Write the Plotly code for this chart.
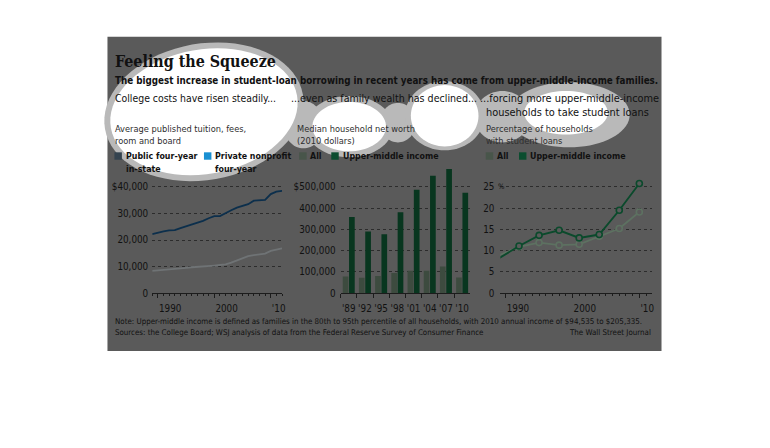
import math
import plotly.graph_objects as go

# ---------------- data ----------------
tuition_years = list(range(1989, 2013))
private_tuition = [22200, 22800, 23300, 23600, 23700, 24500, 25200, 25900, 26500, 27200,
                   28200, 29000, 29000, 30200, 31200, 32200, 32800, 33500, 34800, 35000,
                   35100, 37300, 38200, 38500]
public_tuition = [8400, 8550, 8700, 8900, 9100, 9300, 9550, 9750, 9850, 10000,
                  10200, 10400, 10600, 10800, 11500, 12400, 13200, 13900, 14300, 14600,
                  14900, 15900, 16500, 16900]
tuition_ticks = [1990, 2000, 2010]
tuition_ticktext = ["1990", "2000", "'10"]
tuition_yticks = [0, 10000, 20000, 30000, 40000]
tuition_yticktext = ["0", "10,000", "20,000", "30,000", "$40,000"]

survey_labels = ["'89", "'92", "'95", "'98", "'01", "'04", "'07", "'10"]
networth_all = [78000, 73000, 81000, 95000, 105000, 106000, 125000, 74000]
networth_upper = [358000, 290000, 277000, 381000, 487000, 553000, 584000, 473000]
networth_yticks = [0, 100000, 200000, 300000, 400000, 500000]
networth_yticktext = ["0", "100,000", "200,000", "300,000", "400,000", "$500,000"]

loan_years = [1989, 1992, 1995, 1998, 2001, 2004, 2007, 2010]
loans_all = [8.9, 10.9, 11.9, 11.3, 11.5, 13.4, 15.2, 19.1]
loans_upper = [8.2, 11.1, 13.6, 14.8, 13.0, 13.8, 19.5, 25.8]
loan_yticks = [0, 5, 10, 15, 20, 25]
loan_yticktext = ["0", "5", "10", "15", "20", "25"]

# ---------------- style ----------------
OFF = 8                      # page body margin
FW, FH = 770 - 2 * OFF, 448 - 2 * OFF
BG = "#5a5a5a"
HALO = "#b9b9b9"
GRID = "#2c2c2c"
AXIS = "#1c1c1c"
TXT = "#111111"
SUB = "#2e2e2e"
NAVY = "#0c2f4c"
PUBGRAY = "#6f7375"
ALLG = "#3d4b3f"
UPG = "#08361f"
LALL = "#5d7161"
LUP = "#0b4a2c"
NARROW = "Liberation Sans Narrow, DejaVu Sans Condensed, Liberation Sans, sans-serif"


def X(px):
    return (px - OFF) / FW


def Y(py):
    return 1 - (py - OFF) / FH


def ellipse_path(cx, cy, rx, ry, ang=0.0, n=72):
    a = math.radians(ang)
    pts = []
    for i in range(n):
        t = 2 * math.pi * i / n
        ex, ey = rx * math.cos(t), ry * math.sin(t)
        px = cx + ex * math.cos(a) + ey * math.sin(a)
        py = cy - ex * math.sin(a) + ey * math.cos(a)
        pts.append(f"{X(px):.5f},{Y(py):.5f}")
    return "M" + " L".join(pts) + " Z"


fig = go.Figure()

# left: tuition lines
fig.add_trace(go.Scatter(x=tuition_years, y=public_tuition, mode="lines",
                         line=dict(color=PUBGRAY, width=1.8), xaxis="x", yaxis="y",
                         hoverinfo="skip"))
fig.add_trace(go.Scatter(x=tuition_years, y=private_tuition, mode="lines",
                         line=dict(color=NAVY, width=1.8), xaxis="x", yaxis="y",
                         hoverinfo="skip"))
# middle: bars
fig.add_trace(go.Bar(x=survey_labels, y=networth_all, marker=dict(color=ALLG, line_width=0),
                     xaxis="x2", yaxis="y2", hoverinfo="skip"))
fig.add_trace(go.Bar(x=survey_labels, y=networth_upper, marker=dict(color=UPG, line_width=0),
                     xaxis="x2", yaxis="y2", hoverinfo="skip"))
# right: loan lines
fig.add_trace(go.Scatter(x=loan_years, y=loans_all, mode="lines+markers",
                         line=dict(color=LALL, width=1.8),
                         marker=dict(size=6, color=BG, line=dict(color=LALL, width=1.6)),
                         xaxis="x3", yaxis="y3", cliponaxis=False, hoverinfo="skip"))
fig.add_trace(go.Scatter(x=loan_years, y=loans_upper, mode="lines+markers",
                         line=dict(color=LUP, width=1.9),
                         marker=dict(size=6, color=BG, line=dict(color=LUP, width=1.6)),
                         xaxis="x3", yaxis="y3", cliponaxis=False, hoverinfo="skip"))

ZERO_PY = 296.5
tickfont = dict(family=NARROW, size=9.8, color=TXT)


def ydom(top_py):
    return [Y(ZERO_PY), Y(top_py)]


def yaxis_common(**kw):
    d = dict(showgrid=True, gridcolor=GRID, griddash="dot", gridwidth=1, zeroline=False,
             showline=False, ticks="", tickfont=tickfont, fixedrange=True, ticklabelstandoff=3)
    d.update(kw)
    return d


def xaxis_common(**kw):
    d = dict(showgrid=False, zeroline=False, showline=True, linecolor=AXIS, linewidth=1.2,
             ticks="outside", ticklen=4, tickwidth=1, tickcolor=AXIS, tickfont=tickfont,
             fixedrange=True, tickangle=0, ticklabelstandoff=6)
    d.update(kw)
    return d


left_top = 182.0
left_rng = 40000 * (ZERO_PY - left_top) / (ZERO_PY - 189.0)
mid_top = 166.0
mid_rng = 500000 * (ZERO_PY - mid_top) / (ZERO_PY - 189.0)
right_top = 180.0
right_rng = 25 * (ZERO_PY - right_top) / (ZERO_PY - 189.0)

minor = dict(dtick=1, tick0=1990, ticks="outside", ticklen=2, tickcolor=AXIS, showgrid=False)

fig.update_layout(
    width=FW, height=FH,
    margin=dict(l=0, r=0, t=0, b=0),
    paper_bgcolor="white", plot_bgcolor="rgba(0,0,0,0)",
    showlegend=False, barmode="group", bargap=0.22, bargroupgap=0.1,
    xaxis=xaxis_common(domain=[X(153), X(283.5)], range=[1989, 2012], anchor="y",
                       tickvals=tuition_ticks, ticktext=tuition_ticktext,
                       ticklabelposition="outside right", minor=minor),
    yaxis=yaxis_common(domain=ydom(left_top), range=[0, left_rng], anchor="x",
                       tickvals=tuition_yticks, ticktext=tuition_yticktext),
    xaxis2=xaxis_common(domain=[X(342.4), X(472.7)], range=[-0.5, 7.5], anchor="y2",
                        type="category", tickson="boundaries"),
    yaxis2=yaxis_common(domain=ydom(mid_top), range=[0, mid_rng], anchor="x2",
                        tickvals=networth_yticks, ticktext=networth_yticktext,
                        ticklabelstandoff=4),
    xaxis3=xaxis_common(domain=[X(503), X(655)], range=[1989.21, 2011.83], anchor="y3",
                        tickvals=tuition_ticks, ticktext=tuition_ticktext,
                        ticklabelposition="outside right", minor=minor),
    yaxis3=yaxis_common(domain=ydom(right_top), range=[0, right_rng], anchor="x3",
                        tickvals=loan_yticks, ticktext=loan_yticktext,
                        ticklabelstandoff=5),
)

shapes = [dict(type="rect", xref="paper", yref="paper", x0=X(108), x1=X(665), y0=Y(355), y1=Y(37),
               fillcolor=BG, line=dict(width=0), layer="below")]
halos = [(205, 113, 101, 69, 10), (305, 126, 20, 24, 0), (351, 128, 44, 31, 0),
         (400, 124, 18, 20, 0), (447, 117, 40, 35, 0), (505, 118, 28, 26, 0),
         (572, 116, 61, 33, 0)]
whites = [(205, 113, 95, 63, 10), (351, 128, 37, 25, 0), (447, 117, 34, 31, 0),
          (569, 114, 42, 22, 0)]
for cx, cy, rx, ry, a in halos:
    shapes.append(dict(type="path", xref="paper", yref="paper", path=ellipse_path(cx, cy, rx, ry, a),
                       fillcolor=HALO, line=dict(width=0), layer="below"))
for cx, cy, rx, ry, a in whites:
    shapes.append(dict(type="path", xref="paper", yref="paper", path=ellipse_path(cx, cy, rx, ry, a),
                       fillcolor="white", line=dict(width=0), layer="below"))

# legend swatches
for x0, col in [(115, "#34434f"), (205, "#1a90d2"), (300.7, "#48554a"), (333, "#0b4d2f"),
                (488.3, "#48554a"), (521.7, "#0b4d2f")]:
    shapes.append(dict(type="rect", xref="paper", yref="paper", x0=X(x0), x1=X(x0 + 7.5),
                       y0=Y(161.5), y1=Y(154), fillcolor=col, line=dict(width=0)))
fig.update_layout(shapes=shapes)

ann = []


def text(px, py, s, size, color=TXT, family=NARROW, bold=False, xanchor="left"):
    if bold:
        s = "<b>" + s + "</b>"
    ann.append(dict(xref="paper", yref="paper", x=X(px), y=Y(py), text=s, showarrow=False,
                    xanchor=xanchor, yanchor="middle", align=xanchor,
                    font=dict(family=family, size=size, color=color)))


text(114, 62, "Feeling the Squeeze", 15.9, family="DejaVu Serif Condensed, DejaVu Serif, serif", bold=True)
text(114, 81, "The biggest increase in student-loan borrowing in recent years has come from upper-middle-income families.", 9.75, bold=True)
text(114, 99.5, "College costs have risen steadily...", 10.4)
text(290, 99.5, "...even as family wealth has declined...", 10.6)
text(481, 99.5, "...forcing more upper-middle-income", 10.9)
text(487, 114, "households to take student loans", 10.9)

text(114, 129.5, "Average published tuition, fees,", 9.2, color=SUB)
text(114, 142, "room and board", 9.2, color=SUB)
text(297, 129.5, "Median household net worth", 9.2, color=SUB)
text(297, 142, "(2010 dollars)", 9.2, color=SUB)
text(487, 129.5, "Percentage of households", 9.2, color=SUB)
text(487, 142, "with student loans", 9.2, color=SUB)

text(124.5, 158, "Public four-year", 8.8, bold=True)
text(124.5, 170.5, "in-state", 8.8, bold=True)
text(214, 158, "Private nonprofit", 8.8, bold=True)
text(214, 170.5, "four-year", 8.8, bold=True)
text(310, 158, "All", 8.8, bold=True)
text(342.5, 158, "Upper-middle income", 8.8, bold=True)
text(498, 158, "All", 8.8, bold=True)
text(531, 158, "Upper-middle income", 8.8, bold=True)

text(498.3, 189, "%", 7.5)

text(114, 325.5, "Note: Upper-middle income is defined as families in the 80th to 95th percentile of all households, with 2010 annual income of $94,535 to $205,335.", 7.9)
text(114, 336.5, "Sources: the College Board; WSJ analysis of data from the Federal Reserve Survey of Consumer Finance", 7.9)
text(656, 336.5, "The Wall Street Journal", 7.9, xanchor="right")

fig.update_layout(annotations=ann)
fig.write_html("out.html")
